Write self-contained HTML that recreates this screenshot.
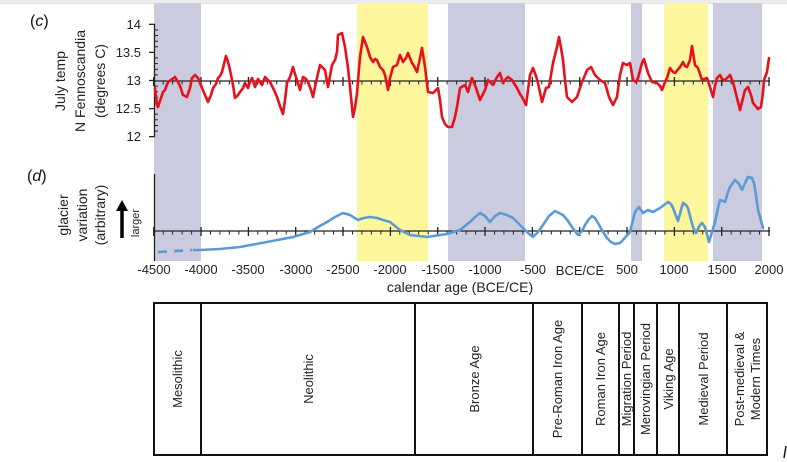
<!DOCTYPE html>
<html><head><meta charset="utf-8"><style>
html,body{margin:0;padding:0;background:#fff;}
svg{display:block;font-family:"Liberation Sans",sans-serif;}
</style></head><body>
<svg width="787" height="462" viewBox="0 0 787 462" xmlns="http://www.w3.org/2000/svg">
<rect x="0" y="0" width="787" height="462" fill="#fff"/>
<!-- top faded header strip -->
<rect x="0" y="0" width="787" height="3" fill="#ececec"/>
<line x1="0" y1="3.5" x2="787" y2="3.5" stroke="#e2e2e2" stroke-width="1"/>
<!-- bands -->
<g>
<rect x="154" y="3" width="47" height="258" fill="#cbcbe0"/>
<rect x="357" y="3" width="71" height="258" fill="#fdf69c"/>
<rect x="448" y="3" width="77" height="258" fill="#cbcbe0"/>
<rect x="631" y="3" width="11" height="258" fill="#cbcbe0"/>
<rect x="664" y="3" width="44" height="258" fill="#fdf69c"/>
<rect x="713" y="3" width="49" height="258" fill="#cbcbe0"/>
</g>
<!-- labels left -->
<text x="30" y="26" font-size="16" fill="#111">(<tspan font-style="italic">c</tspan>)</text>
<text transform="translate(65,81) rotate(-90)" text-anchor="middle" font-size="14" fill="#222">July temp</text>
<text transform="translate(85,81) rotate(-90)" text-anchor="middle" font-size="14" fill="#222">N Fennoscandia</text>
<text transform="translate(105,81) rotate(-90)" text-anchor="middle" font-size="14" fill="#222">(degrees C)</text>
<text x="27" y="181" font-size="16" fill="#111">(<tspan font-style="italic">d</tspan>)</text>
<text transform="translate(68,215) rotate(-90)" text-anchor="middle" font-size="14" fill="#222">glacier</text>
<text transform="translate(87,215) rotate(-90)" text-anchor="middle" font-size="14" fill="#222">variation</text>
<text transform="translate(105,215) rotate(-90)" text-anchor="middle" font-size="14" fill="#222">(arbitrary)</text>
<line x1="122" y1="209" x2="122" y2="238" stroke="#000" stroke-width="3.5"/>
<polygon points="116,211 128,211 122,200" fill="#000"/>
<text transform="translate(139,223) rotate(-90)" text-anchor="middle" font-size="11" fill="#222">larger</text>
<!-- top y axis -->
<g stroke="#222" stroke-width="1.3">
<line x1="154.5" y1="24" x2="154.5" y2="137"/>
<line x1="149" y1="24.3" x2="154.5" y2="24.3"/>
<line x1="149" y1="52.4" x2="154.5" y2="52.4"/>
<line x1="149" y1="80.5" x2="154.5" y2="80.5"/>
<line x1="149" y1="108.6" x2="154.5" y2="108.6"/>
<line x1="149" y1="136.7" x2="154.5" y2="136.7"/>
</g>
<g stroke="#222" stroke-width="1" id="ymin">
<line x1="154.5" y1="29.9" x2="158" y2="29.9"/><line x1="154.5" y1="35.5" x2="158" y2="35.5"/><line x1="154.5" y1="41.2" x2="158" y2="41.2"/><line x1="154.5" y1="46.8" x2="158" y2="46.8"/>
<line x1="154.5" y1="58" x2="158" y2="58"/><line x1="154.5" y1="63.6" x2="158" y2="63.6"/><line x1="154.5" y1="69.3" x2="158" y2="69.3"/><line x1="154.5" y1="74.9" x2="158" y2="74.9"/>
<line x1="154.5" y1="86.1" x2="158" y2="86.1"/><line x1="154.5" y1="91.7" x2="158" y2="91.7"/><line x1="154.5" y1="97.4" x2="158" y2="97.4"/><line x1="154.5" y1="103" x2="158" y2="103"/>
<line x1="154.5" y1="114.2" x2="158" y2="114.2"/><line x1="154.5" y1="119.8" x2="158" y2="119.8"/><line x1="154.5" y1="125.5" x2="158" y2="125.5"/><line x1="154.5" y1="131.1" x2="158" y2="131.1"/>
</g>
<g font-size="13" fill="#222" text-anchor="end">
<text x="141" y="29">14</text>
<text x="141" y="57">13.5</text>
<text x="141" y="85">13</text>
<text x="141" y="113">12.5</text>
<text x="141" y="141">12</text>
</g>
<!-- top x axis line -->
<g stroke="#222">
<line x1="154" y1="81" x2="770" y2="81" stroke-width="1.3"/>
<path stroke-width="1.3" d="M153.7 77V86M201 77V86M248.4 77V86M295.7 77V86M343 77V86M390.4 77V86M437.7 77V86M485 77V86M532.4 77V86M579.7 77V86M627 77V86M674.4 77V86M721.7 77V86M769 77V86"/>
<path stroke-width="1" d="M163.2 81V84.5M172.6 81V84.5M182.1 81V84.5M191.6 81V84.5M210.5 81V84.5M219.9 81V84.5M229.4 81V84.5M238.9 81V84.5M257.8 81V84.5M267.3 81V84.5M276.7 81V84.5M286.2 81V84.5M305.1 81V84.5M314.6 81V84.5M324 81V84.5M333.5 81V84.5M352.5 81V84.5M361.9 81V84.5M371.4 81V84.5M380.9 81V84.5M399.8 81V84.5M409.3 81V84.5M418.7 81V84.5M428.2 81V84.5M447.1 81V84.5M456.6 81V84.5M466.1 81V84.5M475.5 81V84.5M494.5 81V84.5M503.9 81V84.5M513.4 81V84.5M522.9 81V84.5M541.8 81V84.5M551.3 81V84.5M560.7 81V84.5M570.2 81V84.5M589.1 81V84.5M598.6 81V84.5M608.1 81V84.5M617.5 81V84.5M636.5 81V84.5M645.9 81V84.5M655.4 81V84.5M664.9 81V84.5M683.8 81V84.5M693.3 81V84.5M702.7 81V84.5M712.2 81V84.5M731.1 81V84.5M740.6 81V84.5M750.1 81V84.5M759.5 81V84.5"/>
</g>
<!-- red series -->
<polyline fill="none" stroke="#e8101a" stroke-width="2.6" stroke-linejoin="round" stroke-linecap="round" points="155,88 157,105 158,107 160,101 163,92 165,90 168,82 171,80 175,77 178,82 180,86 183,95 187,97 190,88 192,78 195,75 198,78 202,88 205,95 208,102 211,95 213,88 216,84 218,78 220,76 222,72 226,56 228,62 230,70 233,85 235,98 238,95 240,92 243,88 245,83 248,88 250,82 252,78 255,87 258,79 262,85 265,77 268,80 270,82 274,90 277,97 280,106 283,114 285,100 287,83 290,77 293,67 295,74 297,80 300,90 303,77 306,79 308,82 311,90 313,97 316,82 320,65 323,68 325,70 328,87 330,76 332,65 335,60 337,52 338,35 340,34 342,33 345,47 348,68 350,87 353,117 355,108 357,93 360,57 363,37 365,42 367,47 370,57 373,62 375,59 377,60 380,67 383,70 385,75 388,90 390,78 393,67 397,65 400,55 403,62 406,58 408,53 412,63 414,66 417,72 420,58 422,48 425,67 428,92 433,93 436,90 438,88 440,100 442,117 445,124 448,127 452,127 455,117 457,107 460,88 465,85 468,92 472,78 475,85 478,94 480,100 485,90 488,80 493,85 497,77 500,73 503,83 506,79 508,77 512,80 517,88 520,94 522,97 526,105 528,90 530,75 533,68 536,76 538,83 542,102 546,88 549,87 551,75 553,63 557,47 559,37 561,48 563,60 565,80 567,97 572,102 577,97 580,88 582,82 585,75 587,70 591,67 595,75 600,80 605,83 607,90 609,97 613,105 617,97 620,75 623,63 627,65 630,63 633,80 636,82 638,78 642,63 644,59 646,66 648,73 652,82 657,83 660,86 662,90 665,82 667,78 670,68 673,72 675,73 680,67 683,62 685,66 687,67 690,60 692,46 695,65 698,68 702,80 707,78 710,87 713,97 715,86 717,78 720,75 722,79 725,80 730,75 733,82 735,90 738,102 740,110 743,98 745,90 748,87 751,95 753,103 758,109 761,107 763,92 764,80 767,72 769,58"/>
<!-- bottom y axis -->
<line x1="154.5" y1="174" x2="154.5" y2="261" stroke="#222" stroke-width="1.3"/>
<!-- bottom x axis -->
<g stroke="#222">
<line x1="154" y1="231" x2="770" y2="231" stroke-width="1.3"/>
<path stroke-width="1.3" d="M153.7 227V236M201 227V236M248.4 227V236M295.7 227V236M343 227V236M390.4 227V236M437.7 227V236M485 227V236M532.4 227V236M579.7 227V236M627 227V236M674.4 227V236M721.7 227V236M769 227V236"/>
<path stroke-width="1" d="M163.2 231V234.5M172.6 231V234.5M182.1 231V234.5M191.6 231V234.5M210.5 231V234.5M219.9 231V234.5M229.4 231V234.5M238.9 231V234.5M257.8 231V234.5M267.3 231V234.5M276.7 231V234.5M286.2 231V234.5M305.1 231V234.5M314.6 231V234.5M324 231V234.5M333.5 231V234.5M352.5 231V234.5M361.9 231V234.5M371.4 231V234.5M380.9 231V234.5M399.8 231V234.5M409.3 231V234.5M418.7 231V234.5M428.2 231V234.5M447.1 231V234.5M456.6 231V234.5M466.1 231V234.5M475.5 231V234.5M494.5 231V234.5M503.9 231V234.5M513.4 231V234.5M522.9 231V234.5M541.8 231V234.5M551.3 231V234.5M560.7 231V234.5M570.2 231V234.5M589.1 231V234.5M598.6 231V234.5M608.1 231V234.5M617.5 231V234.5M636.5 231V234.5M645.9 231V234.5M655.4 231V234.5M664.9 231V234.5M683.8 231V234.5M693.3 231V234.5M702.7 231V234.5M712.2 231V234.5M731.1 231V234.5M740.6 231V234.5M750.1 231V234.5M759.5 231V234.5"/>
</g>
<!-- blue series -->
<path d="M158,252 L192,250" fill="none" stroke="#5b9bd5" stroke-width="2.6" stroke-dasharray="9,7"/>
<polyline fill="none" stroke="#5b9bd5" stroke-width="2.6" stroke-linejoin="round" stroke-linecap="round" points="194,250 200,250 220,249 240,247 267,242 293,237 310,232 318,227 327,222 335,217 343,213 350,215 358,220 364,218 370,217 377,218 383,220 390,222 400,230 410,235 427,237 447,234 460,230 470,222 475,217 480,213 485,216 490,222 495,216 500,213 507,215 513,218 523,228 528,233 533,237 538,232 543,225 549,216 555,211 563,215 568,221 572,227 578,235 582,231 585,225 589,219 592,216 595,218 598,223 603,232 607,238 611,242 615,244 620,243 623,240 630,232 633,220 635,212 639,207 643,213 648,210 653,212 660,208 668,202 671,204 673,208 678,221 681,210 683,203 686,205 688,208 691,220 693,227 696,233 700,225 702,223 705,227 709,242 712,232 715,222 718,208 720,200 723,201 725,202 728,192 730,187 735,180 739,184 742,190 745,183 748,177 752,178 754,183 756,195 758,210 763,228"/>
<!-- x tick labels -->
<g font-size="13" fill="#222" text-anchor="middle">
<text x="154" y="274">-4500</text>
<text x="201" y="274">-4000</text>
<text x="248" y="274">-3500</text>
<text x="296" y="274">-3000</text>
<text x="343" y="274">-2500</text>
<text x="390" y="274">-2000</text>
<text x="438" y="274">-1500</text>
<text x="485" y="274">-1000</text>
<text x="533" y="274">-500</text>
<text x="580" y="275">BCE/CE</text>
<text x="627" y="274">500</text>
<text x="674" y="274">1000</text>
<text x="722" y="274">1500</text>
<text x="769" y="274">2000</text>
</g>
<text x="460" y="292" font-size="14" fill="#222" text-anchor="middle">calendar age (BCE/CE)</text>
<!-- period table -->
<g fill="none" stroke="#111" stroke-width="2">
<rect x="154" y="303" width="613" height="152"/>
<line x1="201" y1="303" x2="201" y2="455"/>
<line x1="415" y1="303" x2="415" y2="455"/>
<line x1="533" y1="303" x2="533" y2="455"/>
<line x1="582" y1="303" x2="582" y2="455"/>
<line x1="619" y1="303" x2="619" y2="455"/>
<line x1="634" y1="303" x2="634" y2="455"/>
<line x1="657" y1="303" x2="657" y2="455"/>
<line x1="679" y1="303" x2="679" y2="455"/>
<line x1="727" y1="303" x2="727" y2="455"/>
</g>
<g font-size="13" fill="#222" text-anchor="middle">
<text transform="translate(182,379) rotate(-90)">Mesolithic</text>
<text transform="translate(313,379) rotate(-90)">Neolithic</text>
<text transform="translate(479,379) rotate(-90)">Bronze Age</text>
<text transform="translate(562,379) rotate(-90)">Pre-Roman Iron Age</text>
<text transform="translate(605,379) rotate(-90)">Roman Iron Age</text>
<text transform="translate(631,379) rotate(-90)">Migration Period</text>
<text transform="translate(650,379) rotate(-90)">Merovingian Period</text>
<text transform="translate(673,379) rotate(-90)">Viking Age</text>
<text transform="translate(708,379) rotate(-90)">Medieval Period</text>
<text transform="translate(744,379) rotate(-90)">Post-medieval &amp;</text>
<text transform="translate(760,379) rotate(-90)">Modern Times</text>
</g>
<line x1="786" y1="446" x2="784" y2="458" stroke="#111" stroke-width="1.5"/>
</svg>
</body></html>
